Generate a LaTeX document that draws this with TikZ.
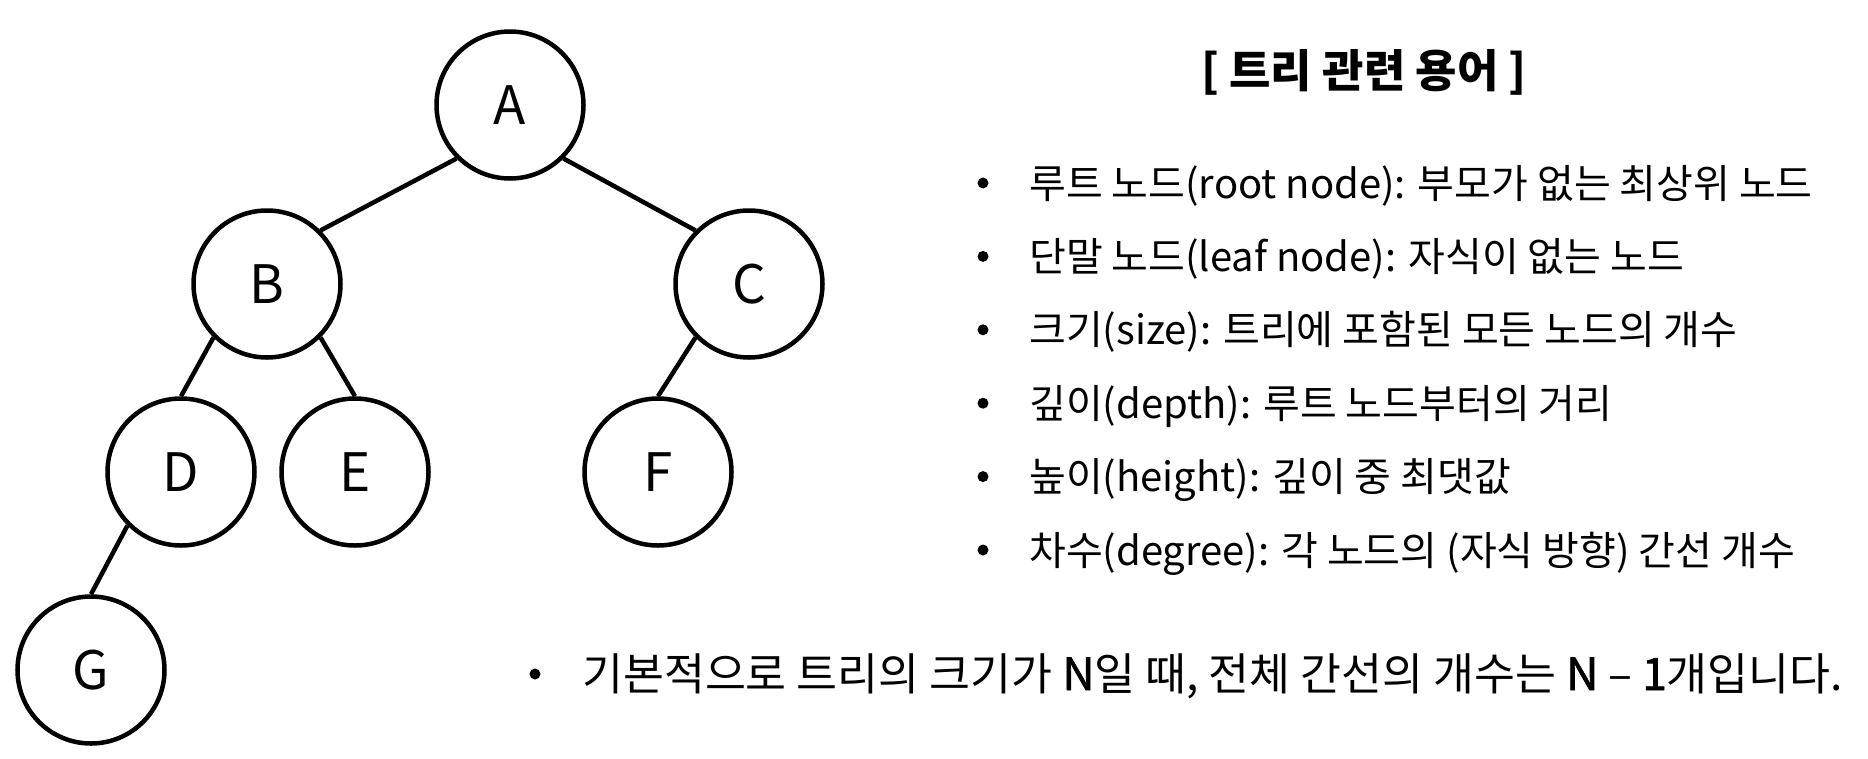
\documentclass[tikz,border=0pt]{standalone}
\usepackage{fontspec}
\setmainfont{Noto Sans CJK KR}
\newfontfamily\medfont{Noto Sans CJK KR}[FakeBold=1.6]
\begin{document}
\begin{tikzpicture}[x=1pt,y=-1pt,
  tnode/.style={circle,draw,line width=4.5pt,minimum size=147pt,inner sep=0pt,font=\fontsize{53}{60}\selectfont},
  edge/.style={line width=4.5pt},
  bul/.style={circle,fill,minimum size=11pt,inner sep=0pt},
  item/.style={anchor=base west,inner sep=0pt,font=\fontsize{40}{46}\selectfont},
  title/.style={anchor=base,inner sep=0pt,font=\fontsize{45}{52}\selectfont\bfseries}]
\useasboundingbox (0,0) rectangle (1868,758);
% tree
\node[tnode] (A) at (510,105) {A};
\node[tnode] (B) at (267,284) {B};
\node[tnode] (C) at (749,284) {C};
\node[tnode] (D) at (181,472) {D};
\node[tnode] (E) at (355,472) {E};
\node[tnode] (F) at (658,472) {F};
\node[tnode] (G) at (91,670) {G};
\draw[edge] (A.-135) -- (B.45);
\draw[edge] (A.-45) -- (C.135);
\draw[edge] (B.-135) -- (D.north);
\draw[edge] (B.-45) -- (E.north);
\draw[edge] (C.-135) -- (F.north);
\draw[edge] (D.-135) -- (G.north);
% title
\node[title] (T) at (1364,87) {[ 트리 관련 용어 ]};
% items
\node[bul] (b1) at (983,183) {};
\node[item] (t1) at (1029,198) {루트 노드(root node): 부모가 없는 최상위 노드};
\node[bul] (b2) at (983,256.4) {};
\node[item] (t2) at (1029,271.4) {단말 노드(leaf node): 자식이 없는 노드};
\node[bul] (b3) at (983,329.8) {};
\node[item] (t3) at (1029,344.8) {크기(size): 트리에 포함된 모든 노드의 개수};
\node[bul] (b4) at (983,403.2) {};
\node[item] (t4) at (1029,418.2) {깊이(depth): 루트 노드부터의 거리};
\node[bul] (b5) at (983,476.6) {};
\node[item] (t5) at (1029,491.6) {높이(height): 깊이 중 최댓값};
\node[bul] (b6) at (983,550) {};
\node[item] (t6) at (1029,565) {차수(degree): 각 노드의 (자식 방향) 간선 개수};
% bottom line
\node[bul] (b7) at (535,674) {};
\node[item,font=\fontsize{44.5}{50}\selectfont] (t7) at (582,690) {기본적으로 트리의 크기가 {\medfont N}일 때, 전체 간선의 개수는 {\medfont N} – {\medfont 1}개입니다.};
\end{tikzpicture}
\end{document}
